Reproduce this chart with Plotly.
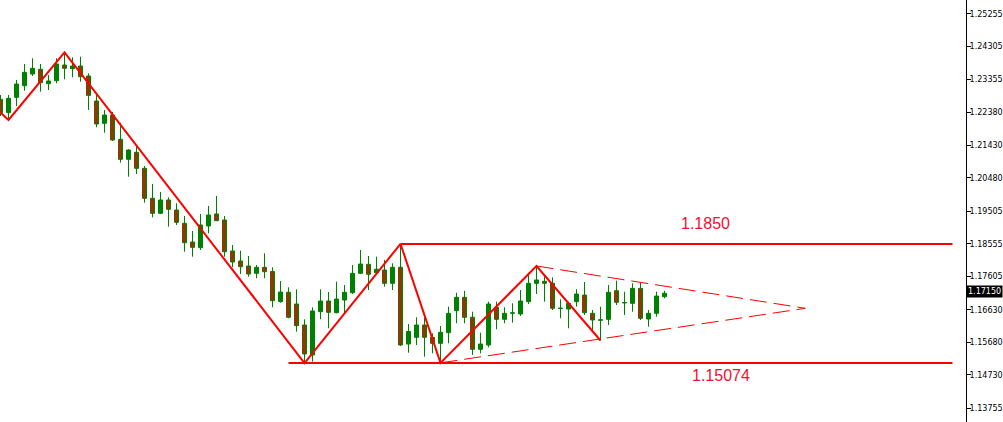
import plotly.graph_objects as go

# ---- candle data (EURUSD-like daily bars) ----
opens = [1.22767, 1.22376, 1.22825, 1.23164, 1.23505, 1.23642, 1.23222, 1.23309, 1.23767, 1.23659,
         1.23738, 1.23446, 1.22717, 1.22067, 1.22309, 1.21600, 1.21017, 1.21221, 1.20754, 1.19879,
         1.19442, 1.19830, 1.19538, 1.19150, 1.18605, 1.18439, 1.19072, 1.19422, 1.19247, 1.18342,
         1.18051, 1.17905, 1.17692, 1.17867, 1.17744, 1.16864, 1.17138, 1.16797, 1.16184, 1.15309,
         1.16572, 1.16884, 1.16543, 1.16913, 1.17126, 1.17692, 1.17954, 1.17709, 1.17788, 1.17400,
         1.17867, 1.15630, 1.15825, 1.16184, 1.15825, 1.15650, 1.15960, 1.16601, 1.16992, 1.16409,
         1.15475, 1.15601, 1.16700, 1.16350, 1.16525, 1.16505, 1.16864, 1.17400, 1.17459, 1.17400,
         1.16665, 1.16651, 1.16864, 1.17059, 1.16525, 1.16321, 1.16350, 1.17184, 1.16826, 1.16817,
         1.17254, 1.16359, 1.16525, 1.17009]
highs = [1.22892, 1.22892, 1.23330, 1.23796, 1.23963, 1.23796, 1.23476, 1.23963, 1.24138, 1.23992,
         1.24009, 1.23525, 1.22892, 1.22455, 1.22396, 1.22084, 1.21309, 1.21384, 1.20821, 1.20297,
         1.20063, 1.19909, 1.19734, 1.19363, 1.18926, 1.19422, 1.19655, 1.19947, 1.19363, 1.18517,
         1.18351, 1.18197, 1.17934, 1.18275, 1.17867, 1.17467, 1.17284, 1.17225, 1.16350, 1.16700,
         1.17225, 1.17147, 1.17447, 1.17351, 1.17934, 1.18372, 1.18197, 1.18176, 1.18080, 1.17984,
         1.18550, 1.16213, 1.16409, 1.16409, 1.15942, 1.16155, 1.16718, 1.17126, 1.17176, 1.16572,
         1.15960, 1.16864, 1.16864, 1.16700, 1.16817, 1.17205, 1.17709, 1.17905, 1.17604, 1.17575,
         1.16934, 1.16864, 1.17225, 1.17438, 1.16622, 1.16718, 1.17351, 1.17476, 1.17155, 1.17400,
         1.17418, 1.16622, 1.17155, 1.17184]
lows = [1.22280, 1.22163, 1.22571, 1.23018, 1.23446, 1.22989, 1.23038, 1.23234, 1.23350, 1.23408,
        1.23280, 1.22455, 1.21950, 1.21793, 1.21551, 1.20918, 1.20509, 1.20588, 1.19751, 1.19325,
        1.19430, 1.19051, 1.19101, 1.18322, 1.18176, 1.18372, 1.18859, 1.19217, 1.18176, 1.17867,
        1.17672, 1.17593, 1.17546, 1.17546, 1.16700, 1.16835, 1.16380, 1.15989, 1.15074, 1.15114,
        1.16350, 1.16088, 1.16525, 1.16525, 1.17088, 1.17672, 1.17205, 1.17642, 1.17301, 1.17205,
        1.15572, 1.15376, 1.15601, 1.15260, 1.15359, 1.15080, 1.15650, 1.16234, 1.16234, 1.15309,
        1.15359, 1.15533, 1.16059, 1.16234, 1.16251, 1.16447, 1.16797, 1.17088, 1.16864, 1.16622,
        1.16380, 1.16088, 1.16718, 1.16476, 1.15989, 1.15732, 1.16184, 1.16767, 1.16476, 1.16572,
        1.16330, 1.16135, 1.16426, 1.16963]
closes = [1.22376, 1.22796, 1.23213, 1.23554, 1.23671, 1.23251, 1.23301, 1.23796, 1.23671, 1.23738,
          1.23426, 1.22883, 1.22046, 1.22309, 1.21580, 1.21017, 1.21288, 1.20754, 1.19879, 1.19442,
          1.19830, 1.19559, 1.19179, 1.18584, 1.18450, 1.19101, 1.19392, 1.19226, 1.18322, 1.18022,
          1.17884, 1.17672, 1.17867, 1.17739, 1.16893, 1.17147, 1.16409, 1.16164, 1.15338, 1.16592,
          1.16884, 1.16554, 1.16942, 1.17138, 1.17692, 1.17963, 1.17663, 1.17809, 1.17400, 1.17867,
          1.15601, 1.15995, 1.16184, 1.15825, 1.15650, 1.15971, 1.16525, 1.16992, 1.16409, 1.15475,
          1.15630, 1.16797, 1.16350, 1.16525, 1.16543, 1.16884, 1.17400, 1.17497, 1.17400, 1.16671,
          1.16680, 1.16817, 1.17088, 1.16543, 1.16330, 1.16339, 1.17138, 1.16846, 1.16840, 1.17254,
          1.16380, 1.16525, 1.17030, 1.17110]

# ---- zigzag pivots (bar index, price) ----
zigzag_x = [0, 1, 8, 38, 50, 55, 67, 75]
zigzag_y = [1.22380, 1.22163, 1.24138, 1.15074, 1.18550, 1.15080, 1.17905, 1.15732]

# ---- horizontal levels ----
resistance = 1.18550
resistance_label = "1.1850"
resistance_x = [50, 119]
support = 1.15074
support_label = "1.15074"
support_x = [36, 119]

# ---- converging triangle (dashed) ----
tri_upper_x = [67, 100.6]
tri_upper_y = [1.17905, 1.16671]
tri_lower_x = [55, 100.6]
tri_lower_y = [1.15080, 1.16671]

# ---- price axis ----
tick_vals = [1.25255, 1.24305, 1.23355, 1.22380, 1.21430, 1.20480, 1.19505,
             1.18555, 1.17605, 1.16630, 1.15680, 1.14730, 1.13755]
tick_text = ["1.25255", "1.24305", "1.23355", "1.22380", "1.21430", "1.20480", "1.19505",
             "1.18555", "1.17605", "1.16630", "1.15680", "1.14730", "1.13755"]
current_price_label = "1.17150"

GREEN = "#008000"
RED = "#ff0000"

idx = list(range(len(opens)))
bases = [min(o, c) for o, c in zip(opens, closes)]
heights = [max(abs(c - o), 0.00002) for o, c in zip(opens, closes)]
fills = [GREEN if c >= o else RED for o, c in zip(opens, closes)]

wx, wy = [], []
for i, h, l in zip(idx, highs, lows):
    wx += [i, i, None]
    wy += [h, l, None]

fig = go.Figure()

fig.add_trace(go.Scatter(x=wx, y=wy, mode="lines", line=dict(color=GREEN, width=1),
                         hoverinfo="skip", showlegend=False))
fig.add_trace(go.Bar(x=idx, y=heights, base=bases, width=0.5,
                     marker=dict(color=fills, line=dict(color=GREEN, width=1)),
                     showlegend=False))

fig.add_trace(go.Scatter(x=zigzag_x, y=zigzag_y, mode="lines",
                         line=dict(color=RED, width=2), showlegend=False))
fig.add_trace(go.Scatter(x=resistance_x, y=[resistance, resistance], mode="lines",
                         line=dict(color=RED, width=2), showlegend=False))
fig.add_trace(go.Scatter(x=support_x, y=[support, support], mode="lines",
                         line=dict(color=RED, width=2), showlegend=False))
fig.add_trace(go.Scatter(x=tri_upper_x, y=tri_upper_y, mode="lines",
                         line=dict(color=RED, width=1, dash="17px,7px"), showlegend=False))
fig.add_trace(go.Scatter(x=tri_lower_x, y=tri_lower_y, mode="lines",
                         line=dict(color=RED, width=1, dash="17px,7px"), showlegend=False))

fig.add_annotation(x=88.15, y=resistance, yshift=20, text=resistance_label, showarrow=False,
                   font=dict(family="Liberation Sans", size=16, color="#f01030"))
fig.add_annotation(x=90.0, y=support, yshift=-12, text=support_label, showarrow=False,
                   font=dict(family="Liberation Sans", size=16, color="#f01030"))
fig.add_annotation(x=1, xref="paper", xanchor="left", xshift=0,
                   y=closes[-1], yshift=2, yref="y", text=current_price_label, showarrow=False,
                   bgcolor="black", borderpad=1,
                   font=dict(family="DejaVu Sans", size=8, color="white"))

fig.update_layout(
    width=1003, height=422,
    margin=dict(l=0, r=37, t=0, b=0, autoexpand=False),
    paper_bgcolor="white", plot_bgcolor="white",
    showlegend=False, barmode="overlay",
    xaxis=dict(range=[-0.0625, 120.6875], visible=False, fixedrange=True, automargin=False),
    yaxis=dict(range=[1.13355, 1.25663], side="right", showgrid=False, zeroline=False,
               automargin=False,
               showline=True, linecolor="black", linewidth=1,
               ticks="outside", ticklen=4, tickcolor="black", tickwidth=1,
               ticklabelstandoff=-3,
               tickvals=tick_vals, ticktext=tick_text,
               tickfont=dict(family="DejaVu Sans", size=8, color="black")),
)

fig.write_html("out.html", config={"displayModeBar": False},
               post_script="document.body.style.margin='0';document.body.style.overflow='hidden';")
